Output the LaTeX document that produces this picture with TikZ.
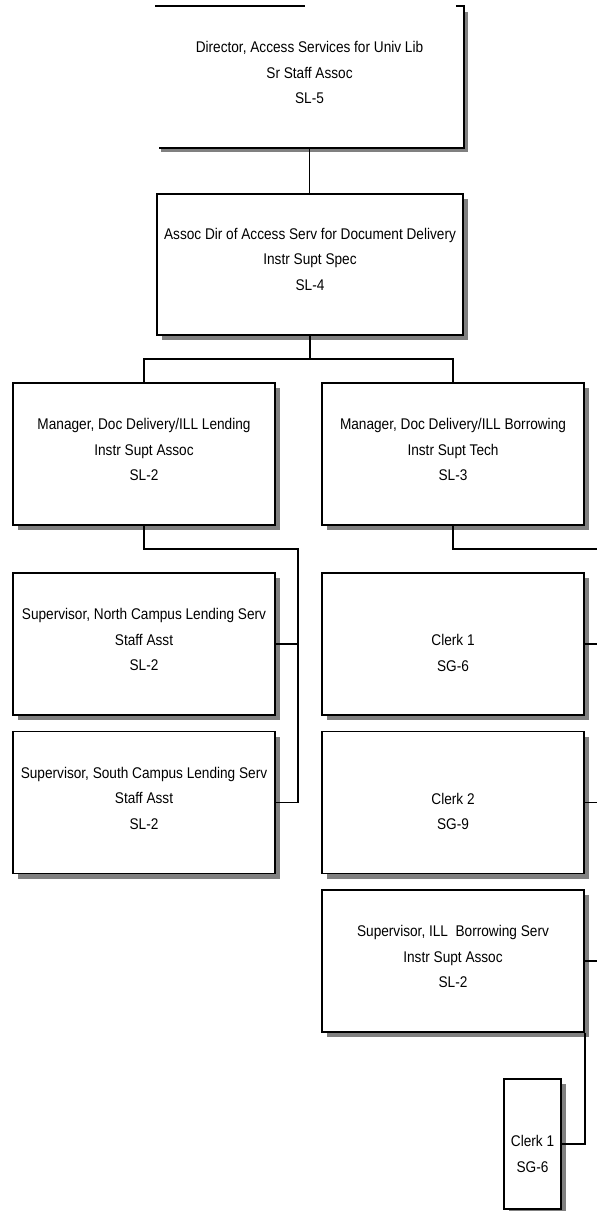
\documentclass[tikz,border=0pt]{standalone}
\usepackage{fontspec}
\setmainfont{Liberation Sans}[FakeStretch=0.88]
\usetikzlibrary{shadows}
\newcommand\boxlines[2]{\raisebox{#1}[\height][\depth]{\begin{tabular}{@{}c@{}}#2\end{tabular}}}
\begin{document}
\begin{tikzpicture}[x=1pt,y=-1pt,
  every node/.style={font=\fontsize{15.5}{25.5}\selectfont, inner sep=0pt},
  shad/.style={drop shadow={shadow xshift=5pt,shadow yshift=-5pt,fill=black!50,opacity=1}},
  box/.style={shad, draw=black, line width=1.8pt, fill=white, minimum width=262pt, minimum height=142pt},
  wide/.style={minimum width=306pt, minimum height=141pt},
  edge/.style={draw=black, line width=1.8pt}
]
\clip (0,0) rectangle (597,1211);
\fill[white] (0,0) rectangle (597,1211);

\node[box, wide, minimum width=307pt, minimum height=140pt, draw=none] (dir) at (309.5,77)
  {\boxlines{4pt}{Director, Access Services for Univ Lib\\Sr Staff Assoc\\SL-5}};
\node[box, wide] (assoc) at (310,264.5)
  {\boxlines{5pt}{Assoc Dir of Access Serv for Document Delivery\\Instr Supt Spec\\SL-4}};
\node[box] (mgrL) at (144,454)
  {\boxlines{4pt}{Manager, Doc Delivery/ILL Lending\\Instr Supt Assoc\\SL-2}};
\node[box] (mgrB) at (453,454)
  {\boxlines{4pt}{Manager, Doc Delivery/ILL Borrowing\\Instr Supt Tech\\SL-3}};
\node[box] (supN) at (144,644)
  {\boxlines{4pt}{Supervisor, North Campus Lending Serv\\Staff Asst\\SL-2}};
\node[box] (supS) at (144,802.5)
  {\boxlines{4pt}{Supervisor, South Campus Lending Serv\\Staff Asst\\SL-2}};
\node[box] (clk1) at (453,644) {\boxlines{-9.5pt}{Clerk 1\\SG-6}};
\node[box] (clk2) at (453,802.5) {\boxlines{-9.5pt}{Clerk 2\\SG-9}};
\node[box] (supI) at (453,961)
  {\boxlines{4pt}{Supervisor, ILL~ Borrowing Serv\\Instr Supt Assoc\\SL-2}};
\node[box, minimum width=57pt, minimum height=130pt] (clk3) at (532.5,1144)
  {\boxlines{-10.5pt}{Clerk 1\\SG-6}};

% partial border of the director box
\draw[edge] (dir.north west) -- ([xshift=150pt]dir.north west);
\draw[edge] ([xshift=-8pt]dir.north east) -- (dir.north east) -- (dir.south east) -- ([xshift=4pt]dir.south west);

% connectors
\coordinate (busA) at (310,359);
\coordinate (busL) at (298,549);
\coordinate (busR) at (601,549);
\draw[edge] (dir.south) -- (dir.south |- assoc.north);
\draw[edge] (assoc.south) -- (busA);
\draw[edge] (mgrL.north) |- (busA) -| (mgrB.north);
\draw[edge] (mgrL.south) |- (busL) |- (supS.east);
\draw[edge] (supN.east) -- (supN.east -| busL);
\draw[edge] (mgrB.south) |- (busR) |- (supI.east);
\draw[edge] (clk1.east) -- (clk1.east -| busR);
\draw[edge] (clk2.east) -- (clk2.east -| busR);
\draw[edge] (supI.south east) |- (clk3.east);
\end{tikzpicture}
\end{document}
